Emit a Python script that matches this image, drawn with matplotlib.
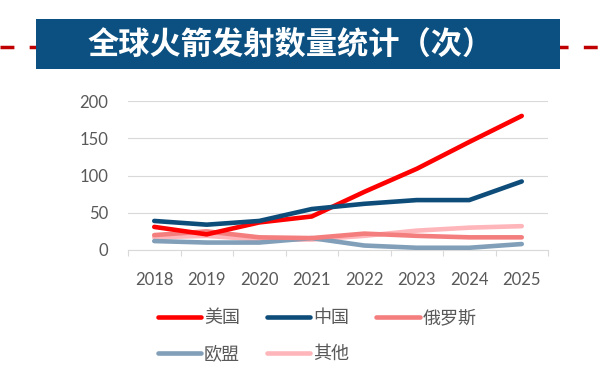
import matplotlib
matplotlib.use("Agg")
import matplotlib.pyplot as plt
from matplotlib.patches import Rectangle
from matplotlib.lines import Line2D

plt.rcParams['font.family'] = ['Noto Sans CJK SC', 'DejaVu Sans']

years = ['2018', '2019', '2020', '2021', '2022', '2023', '2024', '2025']
usa = [31, 21, 37, 45, 78, 109, 145, 180]
china = [39, 34, 39, 55, 62, 67, 67, 92]
russia = [20, 25, 17, 16, 22, 19, 17, 17]
eu = [12, 10, 10, 16, 6, 3, 3, 8]
others = [17, 19, 14, 14, 19, 26, 30, 32]
series_names = ['美国', '中国', '俄罗斯', '欧盟', '其他']
yticks = [0, 50, 100, 150, 200]
title = '全球火箭发射数量统计（次）'

colors = ['#FF0000', '#0E4D7A', '#F47E7E', '#819FB8', '#FFB6BA']

W, H = 612, 381
fig = plt.figure(figsize=(W / 100, H / 100), dpi=100)

# dashed line behind title
fig.add_artist(Line2D([0, 1], [1 - 47 / H, 1 - 47 / H], transform=fig.transFigure,
                      color='#C00000', lw=2.5, dashes=(4, 4.4), zorder=1))
fig.add_artist(Rectangle((36 / W, 1 - 69 / H), (560 - 36) / W, 50 / H,
                         transform=fig.transFigure, facecolor='#0B5080',
                         edgecolor='none', zorder=2))
fig.text(291 / W, 1 - 45 / H, title, color='white', fontsize=22.5, fontweight='bold',
         ha='center', va='center', zorder=3)

ax = fig.add_axes([128 / W, 1 - 250 / H, (548 - 128) / W, (250 - 101) / H])
x = list(range(len(years)))
data = [usa, china, russia, eu, others]
order = [4, 3, 2, 0, 1]
for i in order:
    ax.plot(x, data[i], color=colors[i], lw=3.3, solid_capstyle='round',
            solid_joinstyle='round', label=series_names[i], zorder=3 + (i in (0, 1)))

ax.set_xlim(-0.5, len(years) - 0.5)
ax.set_ylim(0, 200)
ax.set_yticks(yticks)
ax.set_yticklabels([str(v) for v in yticks], family=['Lato', 'DejaVu Sans'],
                   fontsize=12, color='#595959')
ax.set_xticks(x)
ax.set_xticklabels(years, family=['Lato', 'DejaVu Sans'], fontsize=12, color='#595959')
ax.tick_params(axis='x', which='major', length=0, pad=16)
ax.set_xticks([v - 0.5 for v in range(len(years) + 1)], minor=True)
ax.tick_params(axis='x', which='minor', length=4, color='#D9D9D9', width=0.8)
ax.tick_params(axis='y', length=0, pad=14)
ax.grid(axis='y', color='#D9D9D9', lw=0.8, zorder=0)
for s in ['top', 'right', 'left']:
    ax.spines[s].set_visible(False)
ax.spines['bottom'].set_color('#D9D9D9')
ax.spines['bottom'].set_linewidth(0.8)
ax.set_axisbelow(True)

# legend: row-major order (美国 中国 俄罗斯 / 欧盟 其他)
leg_order = [0, 3, 1, 4, 2]
handles = [Line2D([], [], color=colors[i], lw=3.3, solid_capstyle='round') for i in leg_order]
labels = [series_names[i] for i in leg_order]
fig.legend(handles, labels, loc='upper left',
           bbox_to_anchor=(158 / W, 1 - 309 / H), ncol=3, frameon=False,
           fontsize=13, handlelength=2.4, handletextpad=0.15, columnspacing=1.5,
           labelspacing=1.0, borderaxespad=0, borderpad=0,
           labelcolor='#595959')

fig.savefig('out.png', dpi=100, facecolor='white')
